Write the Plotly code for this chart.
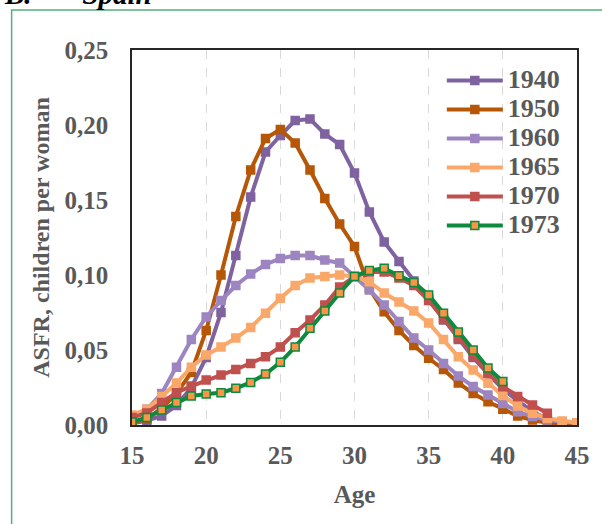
import plotly.graph_objects as go

ages = list(range(15, 46))

asfr_1940 = [0.001, 0.003, 0.006, 0.013, 0.025, 0.045, 0.075, 0.113, 0.152, 0.182, 0.193,
             0.203, 0.204, 0.194, 0.187, 0.168, 0.142, 0.122, 0.109, 0.096, 0.084, 0.070,
             0.057, 0.045, 0.034, 0.024, 0.016, 0.009, 0.004, 0.002, 0.001]
asfr_1950 = [0.002, 0.004, 0.011, 0.021, 0.035, 0.063, 0.100, 0.139, 0.170, 0.191, 0.197,
             0.188, 0.170, 0.151, 0.134, 0.119, 0.091, 0.0755, 0.063, 0.053, 0.0445, 0.037,
             0.028, 0.021, 0.0155, 0.0105, 0.006, 0.0033, 0.0015, 0.0008, 0.0005]
asfr_1960 = [0.006, 0.0105, 0.021, 0.0385, 0.057, 0.072, 0.083, 0.093, 0.1007, 0.107, 0.111,
             0.113, 0.113, 0.110, 0.108, 0.099, 0.090, 0.080, 0.069, 0.058, 0.050, 0.041,
             0.0327, 0.0256, 0.020, 0.0144, 0.0089, 0.0056, 0.0033, 0.0022, 0.0015]
asfr_1965 = [0.0067, 0.0105, 0.019, 0.028, 0.0385, 0.0467, 0.052, 0.058, 0.065, 0.0745, 0.0845,
             0.093, 0.098, 0.099, 0.100, 0.099, 0.0955, 0.088, 0.082, 0.076, 0.068, 0.057,
             0.0455, 0.0367, 0.0278, 0.0196, 0.0127, 0.0078, 0.0045, 0.0027, 0.0015]
asfr_1970 = [0.005, 0.008, 0.015, 0.0215, 0.026, 0.030, 0.0333, 0.037, 0.041, 0.0455, 0.052,
             0.0615, 0.070, 0.080, 0.092, 0.099, 0.102, 0.102, 0.098, 0.093, 0.083, 0.071,
             0.058, 0.046, 0.0345, 0.0255, 0.019, 0.0133, 0.0078]
asfr_1973 = [0.002, 0.005, 0.010, 0.015, 0.0193, 0.0207, 0.0215, 0.0245, 0.0284, 0.034, 0.0418,
             0.052, 0.0645, 0.076, 0.088, 0.099, 0.103, 0.1045, 0.0995, 0.095, 0.0867, 0.0745,
             0.062, 0.050, 0.038, 0.029]

series = [
    ("1940", asfr_1940, "#7F62A0", "#7F62A0", "#7F62A0"),
    ("1950", asfr_1950, "#B65708", "#B65708", "#B65708"),
    ("1960", asfr_1960, "#9C85C0", "#9C85C0", "#9C85C0"),
    ("1965", asfr_1965, "#F9A86A", "#F9A86A", "#F9A86A"),
    ("1970", asfr_1970, "#C0504D", "#C0504D", "#C0504D"),
    ("1973", asfr_1973, "#0E8A3E", "#F79646", "#0E8A3E"),
]

font_family = "Liberation Serif"
grey = "#595959"

fig = go.Figure()
for name, vals, lc, mfill, mline in series:
    fig.add_trace(go.Scatter(
        x=ages[:len(vals)], y=vals,
        name=f"<span style='font-size:26px'><b>{name}</b></span>",
        mode="lines+markers",
        line=dict(color=lc, width=4),
        marker=dict(symbol="square", size=8, color=mfill, line=dict(color=mline, width=1.5)),
    ))

fig.update_layout(
    width=602, height=524,
    margin=dict(l=132, r=19, t=50, b=99),
    paper_bgcolor="white", plot_bgcolor="white",
    separators=", ",
    font=dict(family=font_family, color=grey, size=25),
    showlegend=True,
    legend=dict(
        x=(446 - 132) / 451, y=(425 - 61) / 375, xanchor="left", yanchor="top",
        font=dict(family=font_family, size=20, color=grey),
        bgcolor="rgba(0,0,0,0)", itemwidth=56, tracegroupgap=0,
    ),
    xaxis=dict(
        range=[15, 45], tickvals=[15, 20, 25, 30, 35, 40, 45],
        showgrid=True, gridcolor="#D9D9D9", griddash="dash", gridwidth=1,
        showline=True, mirror=True, linecolor="#262626", linewidth=1.5,
        ticks="", zeroline=False, ticklabelstandoff=7,
        tickfont=dict(family=font_family, size=25, color=grey, weight="bold"),
        title=dict(text="<b>Age</b>", font=dict(family=font_family, size=25, color=grey), standoff=18),
    ),
    yaxis=dict(
        range=[0, 0.25], tickvals=[0, 0.05, 0.10, 0.15, 0.20, 0.25], tickformat=".2f",
        showgrid=False, showline=True, mirror=True, linecolor="#262626", linewidth=1.5,
        ticks="", zeroline=False, ticklabelstandoff=17,
        tickfont=dict(family=font_family, size=25, color=grey, weight="bold"),
        title=dict(text="<b>ASFR, children per woman</b>", font=dict(family=font_family, size=24, color=grey), standoff=8),
    ),
)

fig.add_shape(type="rect", xref="paper", yref="paper",
              x0=(10 - 132) / 451, x1=(640 - 132) / 451,
              y0=(425 - 560) / 375, y1=(425 - 10) / 375,
              line=dict(color="#55B07F", width=1.5), fillcolor="rgba(0,0,0,0)", layer="below")

fig.add_annotation(text="<b><i>B.       Spain</i></b>", xref="paper", yref="paper",
                   x=(0 - 132) / 451, y=(425 - 12) / 375, xanchor="left", yanchor="bottom",
                   showarrow=False, font=dict(family=font_family, size=29, color="black"))

fig.write_html("out.html")
